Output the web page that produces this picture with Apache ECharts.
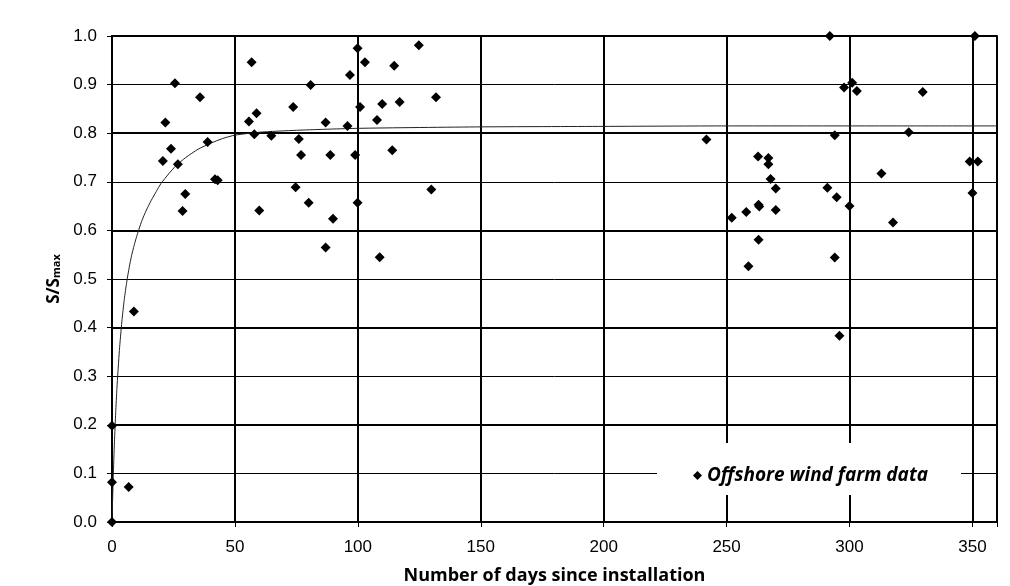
<!DOCTYPE html>
<html>
<head>
<meta charset="utf-8">
<script src="https://cdn.jsdelivr.net/npm/echarts@6/dist/echarts.min.js"></script>
<style>html,body{margin:0;padding:0;background:#fff}#c{width:1010px;height:586px}</style>
</head>
<body>
<div id="c"></div>
<script>
// Scatter data: days since installation and S/Smax
const pointDays = [0,0,0,6.8,8.9,
  20.7,21.7,24.0,25.6,26.8,28.7,29.8,35.8,38.9,41.9,43.0,
  55.7,56.8,57.9,58.8,59.9,64.8,
  73.7,74.7,76.0,76.9,80.0,80.8,86.9,86.9,88.8,89.9,
  95.8,96.8,98.9,99.9,99.9,100.9,102.9,107.8,108.9,109.9,114.0,114.8,117.0,124.8,129.9,131.8,
  241.8,252.1,258,258.9,262.8,263,263.3,263,267,267,267.9,270,270,
  291,292,294,294,294.8,295.9,297.8,300,301.1,303,
  313,317.7,324.1,329.8,348.9,350,351,352.2];
const pointRatio = [0,0.082,0.198,0.072,0.433,
  0.743,0.822,0.768,0.903,0.736,0.640,0.675,0.874,0.782,0.705,0.703,
  0.824,0.946,0.798,0.841,0.641,0.795,
  0.854,0.689,0.788,0.755,0.657,0.899,0.822,0.565,0.755,0.624,
  0.815,0.920,0.755,0.975,0.657,0.854,0.946,0.827,0.545,0.860,0.765,0.939,0.864,0.981,0.684,0.874,
  0.787,0.626,0.638,0.526,0.752,0.653,0.649,0.581,0.749,0.736,0.706,0.686,0.642,
  0.688,1.0,0.796,0.544,0.668,0.383,0.894,0.650,0.904,0.887,
  0.717,0.616,0.802,0.885,0.742,0.677,1.0,0.742];
// Fitted trend curve
const curveDays = [0,0.5,1,1.5,2,3,4,5,6,7,8,9,10,12,14,16,18,20,23,26,30,35,40,45,50,60,75,100,150,200,250,300,360];
const curveVals = [0,0.092,0.165,0.225,0.275,0.353,0.412,0.458,0.494,0.524,0.549,0.569,0.587,0.618,0.642,0.662,0.680,0.697,0.716,0.733,0.750,0.767,0.779,0.789,0.796,0.802,0.806,0.810,0.813,0.814,0.815,0.815,0.815];
const legendLabel = 'Offshore wind farm data';
const xTitle = 'Number of days since installation';

const chart = echarts.init(document.getElementById('c'), null, {renderer: 'canvas'});
const pts = pointDays.map((d, i) => [d, pointRatio[i]]);
const curve = curveDays.map((d, i) => [d, curveVals[i]]);

chart.setOption({
  backgroundColor: '#fff',
  animation: false,
  grid: {left: 112, right: 13, top: 36, bottom: 64, outerBoundsMode: 'none', containLabel: false,
    show: true, borderColor: '#444', borderWidth: 2, backgroundColor: 'transparent'},
  graphic: [{type: 'rect', z: 3, shape: {x: 657, y: 443, width: 304, height: 52}, style: {fill: '#fff'}}],
  legend: {
    data: [legendLabel], left: 688, top: 461, z: 5,
    itemWidth: 9, itemHeight: 9, itemGap: 5,
    textStyle: {fontFamily: 'Open Sans', fontStyle: 'italic', fontWeight: 'bold', fontSize: 19, color: '#000'}
  },
  xAxis: {
    type: 'value', min: 0, max: 360, interval: 50,
    axisLine: {show: true, onZero: false, lineStyle: {color: '#000', width: 2}},
    axisTick: {show: true, length: 5, lineStyle: {color: '#000', width: 1}},
    axisLabel: {fontFamily: 'Liberation Sans', fontSize: 17, color: '#000', margin: 17,
      formatter: v => (v % 50 === 0 ? String(v) : '')},
    splitLine: {show: true, lineStyle: {color: '#000', width: 2}},
    name: xTitle, nameLocation: 'middle', nameGap: 45,
    nameTextStyle: {fontFamily: 'Open Sans', fontWeight: 'bold', fontSize: 18, color: '#000'}
  },
  yAxis: [{
    type: 'value', min: 0, max: 1, interval: 0.1,
    axisLine: {show: true, onZero: false, lineStyle: {color: '#000', width: 2}},
    axisTick: {show: true, length: 5, lineStyle: {color: '#000', width: 1}},
    axisLabel: {fontFamily: 'Liberation Sans', fontSize: 17, color: '#000', margin: 15, formatter: v => v.toFixed(1)},
    splitLine: {show: true, lineStyle: {color: '#000', width: 1}},
    name: '{a|S/S}{b|max}', nameLocation: 'middle', nameGap: 44,
    nameTextStyle: {rich: {
      a: {fontFamily: 'Open Sans', fontWeight: 'bold', fontSize: 17, color: '#000'},
      b: {fontFamily: 'Open Sans', fontWeight: 'bold', fontSize: 11, color: '#000', verticalAlign: 'bottom'}
    }}
  }, {
    type: 'value', min: 0, max: 1, interval: 0.2, position: 'left',
    axisLine: {show: false}, axisTick: {show: false}, axisLabel: {show: false},
    splitLine: {show: true, lineStyle: {color: '#000', width: 2}}
  }],
  series: [{
    name: 'trend', type: 'line', data: curve, showSymbol: false, smooth: 0.2,
    lineStyle: {color: '#222', width: 1}, z: 3, silent: true
  }, {
    name: legendLabel, type: 'scatter', data: pts, symbol: 'diamond', symbolSize: 10,
    itemStyle: {color: '#000', opacity: 1}, z: 4
  }]
});
</script>
</body>
</html>
